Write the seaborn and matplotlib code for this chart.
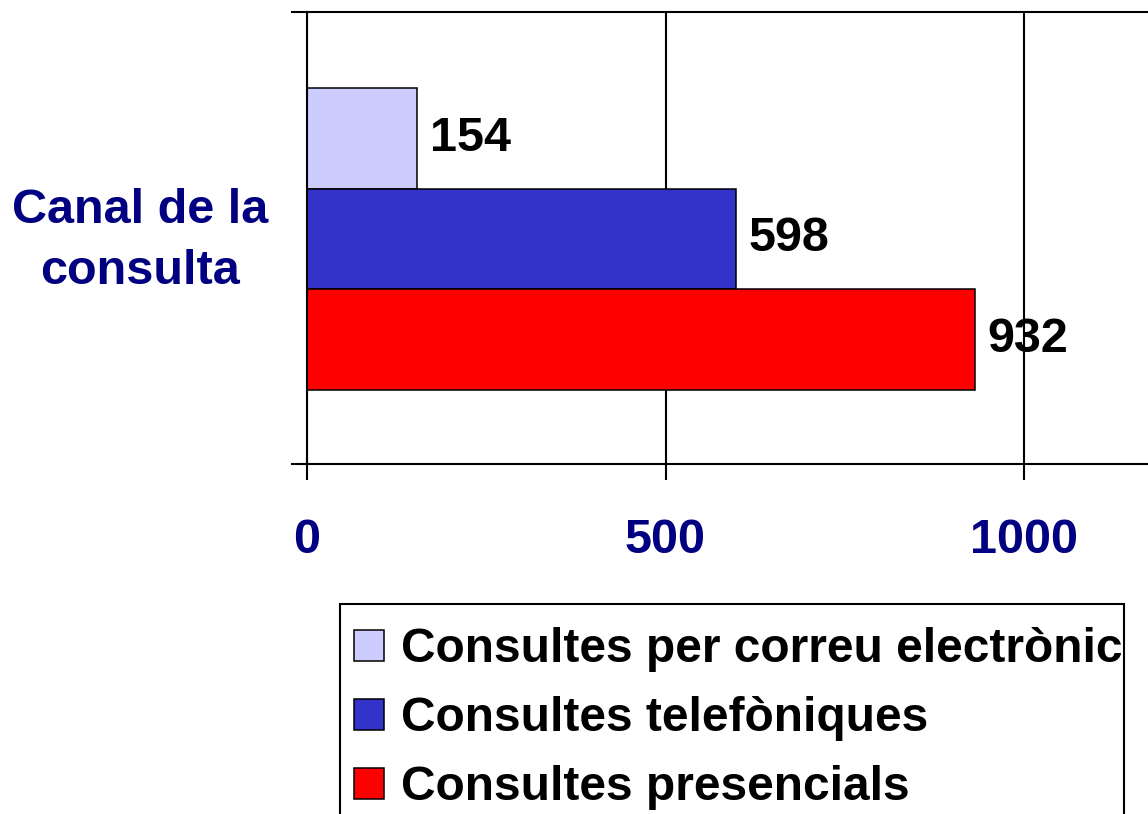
import textwrap
import matplotlib
matplotlib.use("Agg")
import matplotlib.pyplot as plt
from matplotlib.patches import Rectangle
import seaborn as sns
import pandas as pd

categories = ["Canal de la consulta"]
series = ["Consultes per correu electrònic", "Consultes telefòniques", "Consultes presencials"]
values = [154, 598, 932]
colors = ["#CCCCFF", "#3333CC", "#FF0000"]
xticks = [0, 500, 1000]

sns.set_theme(style="white")
plt.rcParams["font.family"] = ["Liberation Sans", "DejaVu Sans"]
plt.rcParams["font.weight"] = "bold"
plt.rcParams["text.color"] = "black"

df = pd.DataFrame({"category": [categories[0]] * len(series), "series": series, "value": values})

W, H = 1148, 814
fig = plt.figure(figsize=(W / 100, H / 100), dpi=100)
ax = fig.add_axes([307 / W, (H - 464) / H, (W - 307) / W, 452 / H])

sns.barplot(data=df, x="value", y="category", hue="series", palette=colors,
            orient="h", edgecolor="black", linewidth=1.1, ax=ax, saturation=1)

ax.set_axisbelow(True)
ax.set_xlim(0, (W - 307) / 0.717)
ax.set_ylim(0.596, -0.601)
ax.set_xticks(xticks)
ax.set_xticklabels([str(t) for t in xticks], fontsize=35, fontweight="bold", color="#000080")
ax.set_yticks([0.596, -0.601])
ax.set_yticklabels(["", ""])
ax.tick_params(axis="both", direction="out", length=11.5, width=1.5, color="black",
               bottom=True, left=True, top=False, right=False)
ax.tick_params(axis="x", pad=27.5)
ax.xaxis.grid(True, color="black", linewidth=1.5)
ax.yaxis.grid(False)
for s in ["left", "top", "bottom"]:
    ax.spines[s].set_color("black")
    ax.spines[s].set_linewidth(1.5)
ax.spines["right"].set_visible(False)

ax.set_xlabel("")
ax.set_ylabel(textwrap.fill(categories[0], 11), rotation=0, fontsize=35,
              fontweight="bold", color="#000080", ha="center", va="center",
              multialignment="center", linespacing=1.44)
ax.yaxis.set_label_coords(-167 / (W - 307), 0.493)

for c in ax.containers:
    ax.bar_label(c, padding=9, fontsize=35, fontweight="bold", color="black")

handles, labels = ax.get_legend_handles_labels()
if ax.get_legend() is not None:
    ax.get_legend().remove()

# legend frame drawn as a figure-level box
fig.patches.append(Rectangle((340 / W, -0.05), (1124 - 340) / W, 1 - 604 / H + 0.05,
                             transform=fig.transFigure, fill=False,
                             edgecolor="black", linewidth=1.5))
leg = fig.legend(handles, labels, loc="upper left",
                 bbox_to_anchor=(340 / W, 1 - 613 / H), bbox_transform=fig.transFigure,
                 fontsize=34.5, frameon=False,
                 borderpad=0.3, labelspacing=0.5, handlelength=0.62, handleheight=0.62,
                 handletextpad=0.35, borderaxespad=0)
for t in leg.get_texts():
    t.set_fontweight("bold")
    t.set_color("black")
for h in leg.legend_handles:
    h.set_edgecolor("black")
    h.set_linewidth(1.1)

fig.savefig("out.png", dpi=100)
